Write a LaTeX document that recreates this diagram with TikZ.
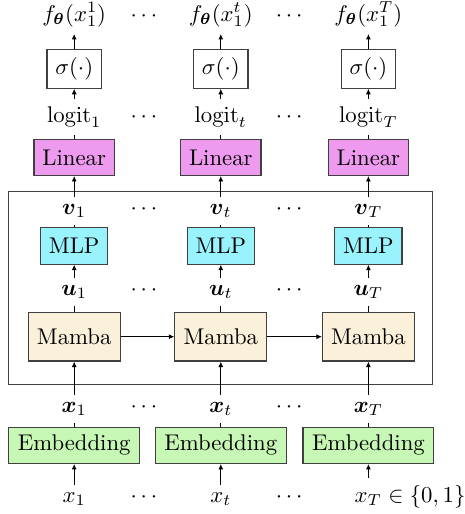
\documentclass[tikz,border=0pt]{standalone}
\usepackage{amsmath}
\usetikzlibrary{arrows.meta}
\definecolor{linfill}{HTML}{EE9AEE}
\definecolor{mlpfill}{HTML}{99F3FC}
\definecolor{mambafill}{HTML}{FBF0D9}
\definecolor{embfill}{HTML}{C6F7B4}
\definecolor{boxline}{HTML}{404040}
\begin{document}
\begin{tikzpicture}[x=0.44pt,y=-0.44pt,
  lbl/.style={inner sep=3pt,anchor=base},
  box/.style={draw=boxline,line width=0.5pt,inner sep=0pt,minimum height=15.8pt},
  sigbox/.style={box,fill=white,minimum width=23.9pt,minimum height=17.1pt},
  linbox/.style={box,fill=linfill,minimum width=35.4pt},
  mlpbox/.style={box,fill=mlpfill,minimum width=29.6pt,minimum height=16pt},
  mambox/.style={box,fill=mambafill,minimum width=40.4pt,minimum height=21.4pt},
  embbox/.style={box,fill=embfill,minimum width=57.5pt,minimum height=15.9pt},
  conn/.style={line width=0.4pt},
  arr/.style={conn,-{Latex[length=2.4pt,width=2.2pt]}}]
\useasboundingbox (0,0) rectangle (465,514);
% frame
\draw[boxline,line width=0.5pt] (8.3,191.7) rectangle (432.3,384.3);
\foreach \c/\s in {74.2/1,220.8/t,368.4/T}{
  \node[lbl] (f\s) at (\c,21) {$f_{\boldsymbol{\theta}}(x_1^{\s})$};
  \node[sigbox] (s\s) at (\c,68.8) {$\sigma(\cdot)$};
  \node[lbl] (l\s) at (\c,122) {$\mathrm{logit}_{\s}$};
  \node[linbox] (lin\s) at (\c,157.5) {Linear};
  \node[lbl] (v\s) at (\c,214) {$\boldsymbol{v}_{\s}$};
  \node[mlpbox] (mlp\s) at (\c,246) {MLP};
  \node[lbl] (u\s) at (\c,295) {$\boldsymbol{u}_{\s}$};
  \node[mambox] (m\s) at (\c,336.7) {Mamba};
  \node[lbl] (bx\s) at (\c,412) {$\boldsymbol{x}_{\s}$};
  \node[embbox] (e\s) at (\c,445.3) {Embedding};
}
\node[lbl] (x1) at (74.2,502) {$x_1$};
\node[lbl] (xt) at (220.8,502) {$x_t$};
\node[lbl] (xT) at (368.4,502) {$x_T$\rlap{${}\in\{0,1\}$}};
\foreach \y/\k in {21/a,122/b,214/c,295/d,412/e,502/f}{
  \node[lbl] (dl\k) at (145.8,\y) {$\cdots$};
  \node[lbl] (dr\k) at (291,\y) {$\cdots$};
}
\foreach \s in {1,t,T}{
  \draw[arr] (x\s) -- (e\s);
  \draw[conn] (e\s) -- (bx\s);
  \draw[arr] (bx\s) -- (m\s);
  \draw[conn] (m\s) -- (u\s);
  \draw[arr] (u\s) -- (mlp\s);
  \draw[conn] (mlp\s) -- (v\s);
  \draw[arr] (v\s) -- (lin\s);
  \draw[conn] (lin\s) -- (l\s);
  \draw[arr] (l\s) -- (s\s);
  \draw[arr] (s\s) -- (f\s);
}
\draw[arr] (m1) -- (mt);
\draw[arr] (mt) -- (mT);
\end{tikzpicture}
\end{document}
